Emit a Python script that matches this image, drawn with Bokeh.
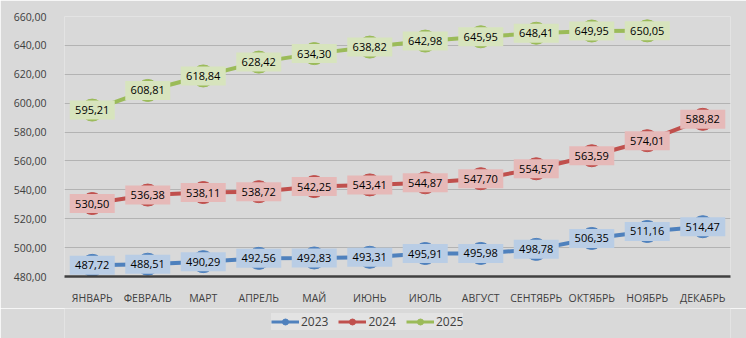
from bokeh.plotting import figure
from bokeh.layouts import column
from bokeh.models import ColumnDataSource, CustomJSTickFormatter, Legend, LegendItem, FixedTicker, Range1d
from bokeh.core.properties import value
from bokeh.embed import file_html
from bokeh.resources import INLINE

months = ["ЯНВАРЬ", "ФЕВРАЛЬ", "МАРТ", "АПРЕЛЬ", "МАЙ", "ИЮНЬ", "ИЮЛЬ",
          "АВГУСТ", "СЕНТЯБРЬ", "ОКТЯБРЬ", "НОЯБРЬ", "ДЕКАБРЬ"]
v2023 = [487.72, 488.51, 490.29, 492.56, 492.83, 493.31, 495.91, 495.98, 498.78, 506.35, 511.16, 514.47]
v2024 = [530.50, 536.38, 538.11, 538.72, 542.25, 543.41, 544.87, 547.70, 554.57, 563.59, 574.01, 588.82]
v2025 = [595.21, 608.81, 618.84, 628.42, 634.30, 638.82, 642.98, 645.95, 648.41, 649.95, 650.05]
y_ticks = [480, 500, 520, 540, 560, 580, 600, 620, 640, 660]

BG = "#d9d9d9"
FONT = "Open Sans"

p = figure(x_range=months, y_range=Range1d(480, 660), width=746, height=308,
           output_backend="svg", toolbar_location=None,
           min_border_left=64, min_border_right=16, min_border_top=16, min_border_bottom=32)
p.background_fill_color = BG
p.border_fill_color = BG
p.outline_line_color = None
p.x_range.range_padding = 0

p.yaxis.ticker = FixedTicker(ticks=y_ticks)
p.yaxis.formatter = CustomJSTickFormatter(code="return tick.toFixed(2).replace('.', ',');")
p.yaxis.axis_line_color = None
p.yaxis.major_tick_line_color = None
p.yaxis.minor_tick_line_color = None
p.yaxis.major_label_text_font = FONT
p.yaxis.major_label_text_font_size = "10.5px"
p.yaxis.major_label_text_color = "#404040"
p.yaxis.major_label_standoff = 12

p.xaxis.axis_line_color = "#404040"
p.xaxis.axis_line_width = 2.5
p.xaxis.major_tick_line_color = None
p.xaxis.minor_tick_line_color = None
p.xaxis.major_label_text_font = FONT
p.xaxis.major_label_text_font_size = "10.5px"
p.xaxis.major_label_text_color = "#404040"
p.xaxis.major_label_standoff = 8

p.xgrid.grid_line_color = None
p.ygrid.grid_line_color = "#b3b3b3"
p.ygrid.grid_line_width = 1

series = [
    ("2023", v2023, "#4f81bd", "#b9cde5"),
    ("2024", v2024, "#c0504d", "#e6b9b8"),
    ("2025", v2025, "#9bbb59", "#d7e4bd"),
]

# legend strip: separate axis-less figure whose y-range keeps the series out of view
pl = figure(width=746, height=30, x_range=p.x_range, y_range=Range1d(0, 1),
            output_backend="svg", toolbar_location=None,
            min_border_left=0, min_border_right=0, min_border_top=0, min_border_bottom=0)
pl.background_fill_color = BG
pl.border_fill_color = BG
pl.outline_line_color = None
pl.axis.visible = False
pl.grid.visible = False

items = []
for name, vals, col, light in series:
    src = ColumnDataSource(dict(x=months[:len(vals)], y=vals,
                                lab=[f"{v:.2f}".replace(".", ",") for v in vals]))
    p.line("x", "y", source=src, line_color=col, line_width=4)
    p.scatter("x", "y", source=src, size=22, fill_color=col, line_color=col)
    p.rect("x", "y", source=src, width=45, height=19, width_units="screen",
           height_units="screen", fill_color=light, line_color=None)
    p.text("x", "y", text="lab", source=src, text_align="center", text_baseline="middle",
           text_font=value(FONT), text_font_size="11px", text_color="#000000")
    l2 = pl.line("x", "y", source=src, line_color=col, line_width=3)
    s2 = pl.scatter("x", "y", source=src, size=7, fill_color=col, line_color=col)
    items.append(LegendItem(label=name, renderers=[l2, s2]))

leg = Legend(items=items, orientation="horizontal", location=(207, 8))
leg.label_text_font = FONT
leg.label_text_font_size = "12px"
leg.label_text_color = "#404040"
leg.glyph_width = 28
leg.glyph_height = 15
leg.spacing = 10
leg.label_standoff = 2
leg.padding = 4
leg.margin = 0
leg.label_height = 15
leg.background_fill_color = "#e3e3e3"
leg.background_fill_alpha = 1
leg.border_line_color = None
pl.add_layout(leg, "center")

layout = column(p, pl, spacing=0)
open("out.html", "w").write(file_html(layout, INLINE))
